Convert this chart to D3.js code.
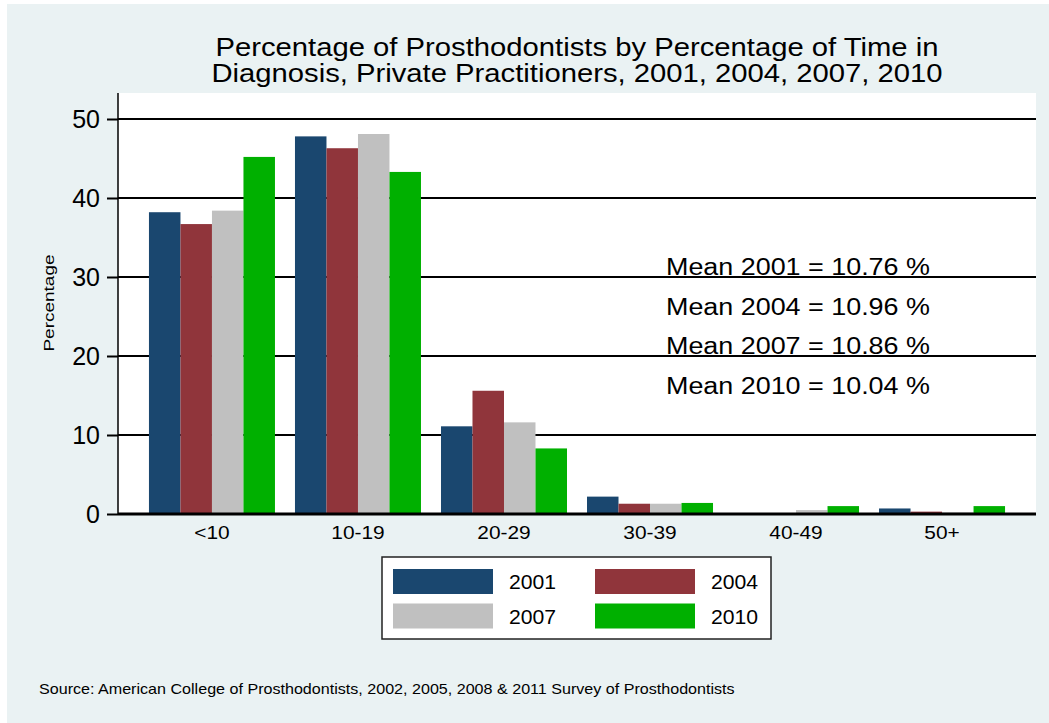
<!DOCTYPE html>
<html>
<head>
<meta charset="utf-8">
<script src="https://cdnjs.cloudflare.com/ajax/libs/d3/7.8.5/d3.min.js"></script>
<style>
  body { margin: 0; background: #fff; }
  text { font-family: "Liberation Sans", Arial, sans-serif; fill: #000; }
</style>
</head>
<body>
<div id="chart"></div>
<script>
var categories = ["<10", "10-19", "20-29", "30-39", "40-49", "50+"];
var years = ["2001", "2004", "2007", "2010"];
var v2001 = [38.2, 47.8, 11.1, 2.2, 0.1, 0.7];
var v2004 = [36.7, 46.3, 15.6, 1.3, 0.0, 0.3];
var v2007 = [38.4, 48.1, 11.6, 1.3, 0.5, 0.2];
var v2010 = [45.2, 43.3, 8.3, 1.4, 1.0, 1.0];
var yTicks = [0, 10, 20, 30, 40, 50];
var means = ["Mean 2001 = 10.76 %", "Mean 2004 = 10.96 %", "Mean 2007 = 10.86 %", "Mean 2010 = 10.04 %"];
var colors = ["#1a476f", "#90353b", "#c0c0c0", "#00b000"];

var series = [v2001, v2004, v2007, v2010];
var W = 1049, H = 723;
var plot = {left: 118, right: 1036, top: 93, bottom: 514};
var stretch = 1.16; // the original text is a bit wider than plain Arial

var svg = d3.select("#chart").append("svg")
    .attr("width", W)
    .attr("height", H);

// backgrounds
svg.append("rect").attr("x", 7).attr("y", 4).attr("width", W - 7).attr("height", H - 4)
    .attr("fill", "#eaf2f3");
svg.append("rect").attr("x", plot.left).attr("y", plot.top)
    .attr("width", plot.right - plot.left).attr("height", plot.bottom - plot.top)
    .attr("fill", "#fff");

var x0 = d3.scaleBand()
    .domain(categories)
    .range([plot.left, plot.right])
    .paddingInner(0.137)
    .paddingOuter(0.212);

var x1 = d3.scaleBand()
    .domain(years)
    .range([0, x0.bandwidth()]);

var y = d3.scaleLinear()
    .domain([0, 50])
    .range([plot.bottom, 119]);

// gridlines
svg.append("g").selectAll("line")
    .data(yTicks.filter(function(d) { return d > 0; }))
    .enter().append("line")
    .attr("x1", plot.left).attr("x2", plot.right)
    .attr("y1", function(d) { return y(d); })
    .attr("y2", function(d) { return y(d); })
    .attr("stroke", "#000").attr("stroke-width", 2);

// bars
var group = svg.append("g").selectAll("g")
    .data(categories)
    .enter().append("g")
    .attr("transform", function(d) { return "translate(" + x0(d) + ",0)"; });

group.selectAll("rect")
    .data(function(d, i) { return years.map(function(yr, j) { return {year: yr, value: series[j][i], c: j}; }); })
    .enter().append("rect")
    .attr("x", function(d) { return x1(d.year); })
    .attr("y", function(d) { return y(d.value); })
    .attr("width", x1.bandwidth())
    .attr("height", function(d) { return plot.bottom - y(d.value); })
    .attr("fill", function(d) { return colors[d.c]; });

// y axis
var yAxis = svg.append("g")
    .attr("transform", "translate(" + plot.left + ",0)")
    .call(d3.axisLeft(y).tickValues(yTicks).tickSize(11).tickPadding(7));
yAxis.select(".domain").attr("stroke", "#000").attr("stroke-width", 1.5)
    .attr("d", "M0," + plot.top + "V" + plot.bottom);
yAxis.selectAll(".tick line").attr("stroke", "#000").attr("stroke-width", 2);
yAxis.selectAll(".tick text").style("font-size", "25px").attr("fill", "#000")
    .style("font-family", "Liberation Sans, Arial, sans-serif");

// x axis
var xAxis = svg.append("g")
    .attr("transform", "translate(0," + plot.bottom + ")")
    .call(d3.axisBottom(x0).tickSize(0).tickPadding(12));
xAxis.select(".domain").attr("stroke", "#000").attr("stroke-width", 3)
    .attr("d", "M" + plot.left + ",0H" + plot.right);
xAxis.selectAll(".tick text").style("font-size", "18px").attr("fill", "#000")
    .style("font-family", "Liberation Sans, Arial, sans-serif")
    .attr("transform", "scale(" + stretch + ",1)");

// y label
svg.append("text")
    .attr("transform", "translate(54,303) scale(0.8,1) rotate(-90)")
    .attr("text-anchor", "middle")
    .style("font-size", "19px")
    .text("Percentage");

// title
var title = ["Percentage of Prosthodontists by Percentage of Time in",
             "Diagnosis, Private Practitioners, 2001, 2004, 2007, 2010"];
svg.append("g").selectAll("text")
    .data(title)
    .enter().append("text")
    .attr("transform", function(d, i) { return "translate(577," + (56 + i * 26) + ") scale(" + 1.17 + ",1)"; })
    .attr("text-anchor", "middle")
    .style("font-size", "25px")
    .text(function(d) { return d; });

// mean annotations
svg.append("g").selectAll("text")
    .data(means)
    .enter().append("text")
    .attr("transform", function(d, i) { return "translate(666," + (275 + i * 39.5) + ") scale(" + 1.17 + ",1)"; })
    .style("font-size", "23px")
    .text(function(d) { return d; });

// legend
var legend = svg.append("g");
legend.append("rect")
    .attr("x", 382).attr("y", 557).attr("width", 389).attr("height", 82)
    .attr("fill", "#fff").attr("stroke", "#222").attr("stroke-width", 1.5);
var item = legend.selectAll("g.item")
    .data(years)
    .enter().append("g")
    .attr("class", "item")
    .attr("transform", function(d, i) {
        return "translate(" + (393 + (i % 2) * 202) + "," + (569 + Math.floor(i / 2) * 34.5) + ")";
    });
item.append("rect")
    .attr("width", 100).attr("height", 25)
    .attr("fill", function(d, i) { return colors[i]; });
item.append("text")
    .attr("transform", "translate(116,20) scale(1.06,1)")
    .style("font-size", "20px")
    .text(function(d) { return d; });

// source note
svg.append("text")
    .attr("transform", "translate(39,694) scale(1.15,1)")
    .style("font-size", "14px")
    .text("Source: American College of Prosthodontists, 2002, 2005, 2008 & 2011 Survey of Prosthodontists");
</script>
</body>
</html>
